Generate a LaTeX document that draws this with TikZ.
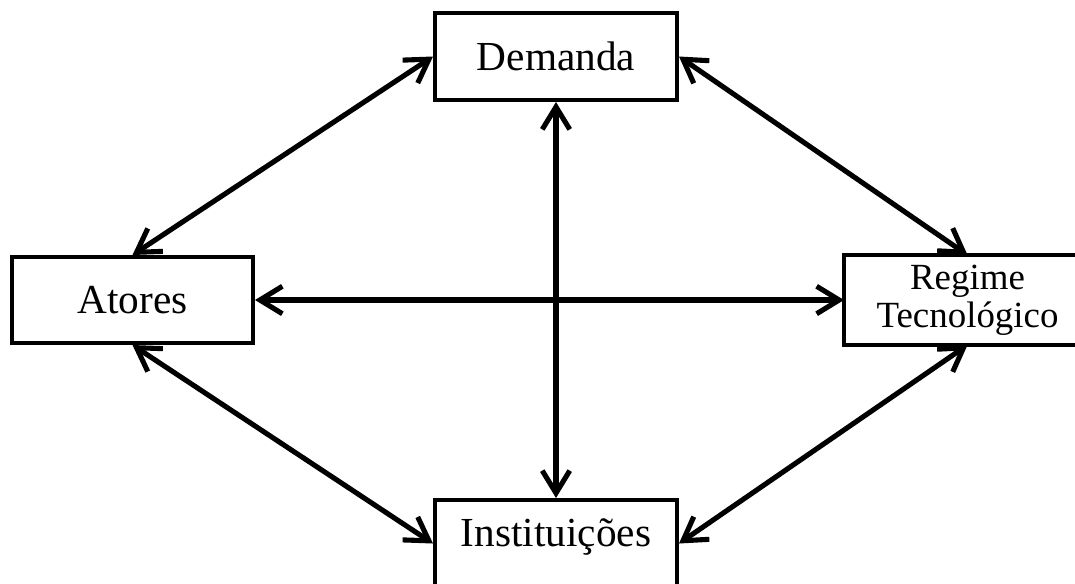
\documentclass[tikz,border=0pt]{standalone}
\usepackage{fontspec}
\setmainfont{Liberation Serif}
\usetikzlibrary{arrows.meta}

\begin{document}
\begin{tikzpicture}[x=0.02cm,y=-0.02cm,>={Straight Barb[length=4.5mm,width=5.5mm]},line width=2.9pt,
    box/.style={draw,line width=2.3pt,minimum width=4.84cm,minimum height=1.74cm,inner sep=0pt,align=center,font=\fontsize{23.5}{27}\selectfont}]

    % Frame
    \useasboundingbox (0,0) rectangle (1075,583);
    \clip (0,0) rectangle (1075,583);

    % Boxes
    \node [box] (dem) at (556,56.5) {Demanda};
    \node [box,minimum width=4.82cm,minimum height=1.72cm] (ato) at (132.5,300) {Atores};
    \node [box,draw=none,minimum width=4.86cm,minimum height=1.72cm,font=\fontsize{21}{21.5}\selectfont] (reg) at (967.5,300) {Regime\\Tecnológico};
    \node [box,text depth=0.45cm] (ins) at (556,543.5) {Instituições};

    % Regime box runs past the right edge
    \draw [line width=2.3pt] ([xshift=6cm]reg.north west) -- (reg.north west) -- (reg.south west) -- ([xshift=6cm]reg.south west);

    % Diagonal links
    \draw [<->] (dem.west) -- (ato.north);
    \draw [<->] (dem.east) -- (reg.north);
    \draw [<->] (ato.south) -- (ins.west);
    \draw [<->] (reg.south) -- (ins.east);

    % Cross
    \draw [<->] (ato.east) -- (reg.west);
    \draw [<->] (dem.south) -- (ins.north);

\end{tikzpicture}
\end{document}
